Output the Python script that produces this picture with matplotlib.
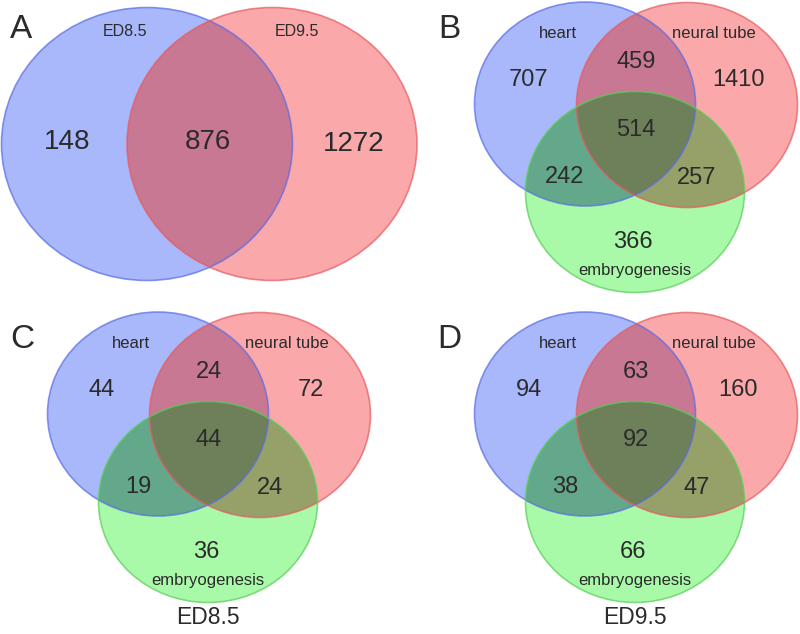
import numpy as np
import matplotlib.pyplot as plt
from matplotlib.patches import Ellipse, Polygon

plt.rcParams['font.family'] = ['Liberation Sans', 'DejaVu Sans']

# panel A: two sets
a_sets = ["ED8.5", "ED9.5"]
a_counts = [148, 876, 1272]  # only 8.5, both, only 9.5

# panels B-D: three sets (heart, neural tube, embryogenesis)
tri_sets = ["heart", "neural tube", "embryogenesis"]
# order: heart only, heart&neural, neural only, all, heart&embryo, neural&embryo, embryo only
b_counts = [707, 459, 1410, 514, 242, 257, 366]
c_counts = [44, 24, 72, 44, 19, 24, 36]
d_counts = [94, 63, 160, 92, 38, 47, 66]
panel_titles = ["A", "B", "C", "D"]
bottom_titles = ["", "", "ED8.5", "ED9.5"]

# region colours as they look in the figure
C_BLUE = "#a8b8fa"
C_RED = "#faa8aa"
C_GREEN = "#a8faa8"
C_BR = "#c87892"
C_BG = "#64a88c"
C_RG = "#96a069"
C_ALL = "#6e805a"
E_BLUE = (0.35, 0.42, 0.90, 0.7)
E_RED = (0.90, 0.35, 0.38, 0.7)
E_GREEN = (0.35, 0.80, 0.35, 0.7)
TXT = "#2b2b2b"

fig = plt.figure(figsize=(8, 6.34), dpi=100)
ax = fig.add_axes([0, 0, 1, 1])
ax.set_xlim(0, 800)
ax.set_ylim(634, 0)
ax.axis("off")


def ell(e, **kw):
    return Ellipse((e[0], e[1]), e[2], e[3], transform=ax.transData, **kw)


def inside(pts, e):
    return ((pts[:, 0] - e[0]) / (e[2] / 2)) ** 2 + ((pts[:, 1] - e[1]) / (e[3] / 2)) ** 2 <= 1


def boundary(e, n=720):
    t = np.linspace(0, 2 * np.pi, n, endpoint=False)
    return np.column_stack([e[0] + e[2] / 2 * np.cos(t), e[1] + e[3] / 2 * np.sin(t)])


def fill(e, col):
    ax.add_patch(ell(e, facecolor=col, edgecolor="none"))


def fill_pair(e1, e2, col):
    p = ell(e1, facecolor=col, edgecolor="none")
    ax.add_patch(p)
    p.set_clip_path(ell(e2))


def fill_triple(es, col):
    pts = []
    for i, e in enumerate(es):
        b = boundary(e)
        m = np.ones(len(b), bool)
        for j, o in enumerate(es):
            if j != i:
                m &= inside(b, o)
        pts.append(b[m])
    pts = np.vstack(pts)
    c = pts.mean(axis=0)
    order = np.argsort(np.arctan2(pts[:, 1] - c[1], pts[:, 0] - c[0]))
    ax.add_patch(Polygon(pts[order], closed=True, facecolor=col, edgecolor="none"))


def outline(e, col):
    ax.add_patch(ell(e, facecolor="none", edgecolor=col, lw=1.2))


# ---- panel A
ea1 = (147, 144, 291, 273)
ea2 = (272, 144, 290, 273)
fill(ea1, C_BLUE)
fill(ea2, C_RED)
fill_pair(ea1, ea2, C_BR)
outline(ea1, E_BLUE)
outline(ea2, E_RED)
ax.text(125, 32, a_sets[0], fontsize=11.5, color=TXT, ha="center", va="center")
ax.text(297, 32, a_sets[1], fontsize=11.5, color=TXT, ha="center", va="center")
for (x, y), v in zip([(67, 142), (208, 142), (354, 144)], a_counts):
    ax.text(x, y, str(v), fontsize=20, color=TXT, ha="center", va="center")
ax.text(21, 30, panel_titles[0], fontsize=24, color=TXT, ha="center", va="center")


# ---- three-set panels
def tri(ox, oy, counts, title, bottom):
    eb = (ox + 185, oy + 104, 221, 204)
    er = (ox + 287, oy + 105, 221, 205)
    eg = (ox + 235, oy + 192, 219, 201)
    fill(eb, C_BLUE)
    fill(er, C_RED)
    fill(eg, C_GREEN)
    fill_pair(eb, er, C_BR)
    fill_pair(eb, eg, C_BG)
    fill_pair(er, eg, C_RG)
    fill_triple([eb, er, eg], C_ALL)
    outline(eb, E_BLUE)
    outline(er, E_RED)
    outline(eg, E_GREEN)
    ax.text(ox + 158, oy + 33, tri_sets[0], fontsize=12, color=TXT, ha="center", va="center")
    ax.text(ox + 314, oy + 33, tri_sets[1], fontsize=12, color=TXT, ha="center", va="center")
    ax.text(ox + 235, oy + 271, tri_sets[2], fontsize=12, color=TXT, ha="center", va="center")
    pos = [(129, 80), (236, 62), (338, 80), (236, 130), (165, 177), (297, 178), (233, 242)]
    for (x, y), v in zip(pos, counts):
        ax.text(ox + x, oy + y, str(v), fontsize=17, color=TXT, ha="center", va="center")
    ax.text(ox + 49, oy + 29, title, fontsize=24, color=TXT, ha="center", va="center")
    if bottom:
        ax.text(ox + 235, oy + 308, bottom, fontsize=16.5, color=TXT, ha="center", va="center")


tri(400, 0, b_counts, panel_titles[1], bottom_titles[1])
tri(-27, 310, c_counts, panel_titles[2], bottom_titles[2])
tri(400, 310, d_counts, panel_titles[3], bottom_titles[3])

fig.savefig("out.png", dpi=100)
